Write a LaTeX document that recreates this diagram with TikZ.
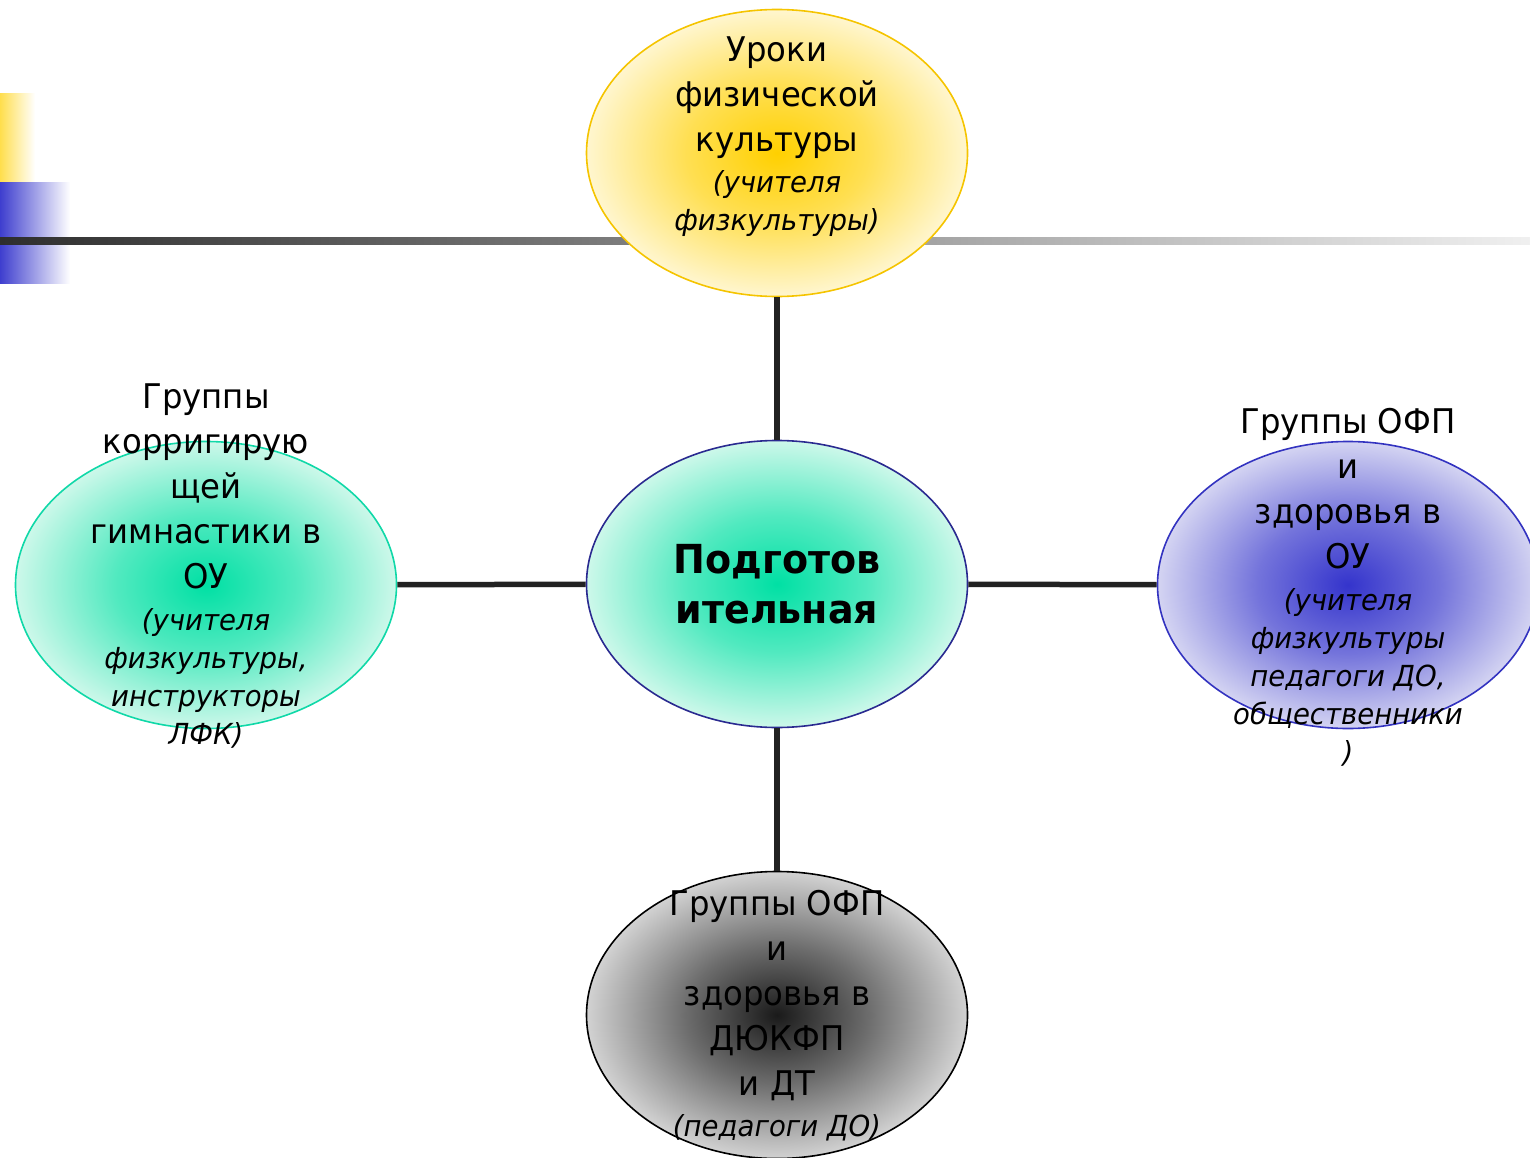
\documentclass[tikz,border=0pt]{standalone}
\usepackage{fontspec}
\setmainfont{DejaVu Sans}[FakeStretch=0.95]
\usetikzlibrary{shapes.geometric}
\setlength{\parindent}{0pt}
\setlength{\parskip}{0pt}
\definecolor{yin}{HTML}{FFD000}
\definecolor{yout}{HTML}{FFF6CF}
\definecolor{ystroke}{HTML}{F5C400}
\definecolor{gin}{HTML}{00E0A4}
\definecolor{gout}{HTML}{CDF8EA}
\definecolor{gstroke}{HTML}{10D8A8}
\definecolor{navy}{HTML}{2A2A90}
\definecolor{bin}{HTML}{3434CC}
\definecolor{bout}{HTML}{D4D4F2}
\definecolor{bstroke}{HTML}{3333C0}
\definecolor{kin}{HTML}{1A1A1A}
\definecolor{kout}{HTML}{D2D2D2}
\definecolor{linkc}{HTML}{222222}
\colorlet{ymid}{yin!60!yout}
\colorlet{gmid}{gin!60!gout}
\colorlet{bmid}{bin!60!bout}
\colorlet{kmid}{kin!55!kout}
\pgfdeclareradialshading{yshade}{\pgfpointorigin}{color(0bp)=(yin); color(12bp)=(ymid); color(25bp)=(yout); color(50bp)=(yout)}
\pgfdeclareradialshading{gshade}{\pgfpointorigin}{color(0bp)=(gin); color(12bp)=(gmid); color(25bp)=(gout); color(50bp)=(gout)}
\pgfdeclareradialshading{bshade}{\pgfpointorigin}{color(0bp)=(bin); color(12bp)=(bmid); color(25bp)=(bout); color(50bp)=(bout)}
\pgfdeclareradialshading{kshade}{\pgfpointorigin}{color(0bp)=(kin); color(12bp)=(kmid); color(25bp)=(kout); color(50bp)=(kout)}
\newcommand{\bigtxt}{\fontsize{34}{45}\selectfont\spaceskip=0pt\xspaceskip=0pt }
\newcommand{\smtxt}{\fontsize{29}{38}\selectfont\itshape\spaceskip=0pt\xspaceskip=0pt }
\tikzset{
  oval/.style={ellipse, minimum width=381pt, minimum height=287pt, inner sep=0pt, line width=1.6pt},
  lbl/.style={text width=340pt, inner sep=0pt, text=black},
  link/.style={draw=linkc, line width=5.5pt}
}
\begin{document}
\begin{tikzpicture}[x=1pt,y=-1pt]
\useasboundingbox (0,0) rectangle (1530,1158);
% decoration
\shade[left color=yin!70!white, right color=white] (0,94) rectangle (35,183);
\shade[left color=bin!95!white, right color=white] (0,183) rectangle (70,283);
\shade[left color=black!82, right color=black!6] (0,238) rectangle (1530,245);
% ellipses
\node[oval, draw=ystroke, shading=yshade] (top) at (777,153) {};
\node[oval, draw=navy, shading=gshade] (mid) at (777,584) {};
\node[oval, draw=gstroke, shading=gshade] (left) at (206,585) {};
\node[oval, draw=bstroke, shading=bshade] (right) at (1348,585) {};
\node[oval, draw=black, shading=kshade] (bot) at (777,1015) {};
% connectors
\draw[link] (top) -- (mid);
\draw[link] (left) -- (mid);
\draw[link] (mid) -- (right);
\draw[link] (mid) -- (bot);
% texts
\node[lbl] (topT) at (777,137) {\centering{\bigtxt Уроки\\физической\\культуры\par}\vskip3pt{\smtxt (учителя\\физкультуры)\par}};
\node[lbl] (midT) at (777,584) {\centering\fontsize{40}{50}\selectfont\bfseries Подготов\\ительная\par};
\node[lbl] (leftT) at (206,566) {\centering{\bigtxt Группы\\корригирую\\щей\\гимнастики в\\ОУ\par}\vskip4pt{\smtxt (учителя\\физкультуры,\\инструкторы\\ЛФК)\par}};
\node[lbl] (rightT) at (1348,587) {\centering{\bigtxt Группы ОФП\\и\\здоровья в\\ОУ\par}\vskip4pt{\smtxt (учителя\\физкультуры\\педагоги ДО,\\общественники\\)\par}};
\node[lbl] (botT) at (777,1016) {\centering{\bigtxt Группы ОФП\\и\\здоровья в\\ДЮКФП\\и ДТ\par}\vskip3pt{\smtxt (педагоги ДО)\par}};
\end{tikzpicture}
\end{document}
